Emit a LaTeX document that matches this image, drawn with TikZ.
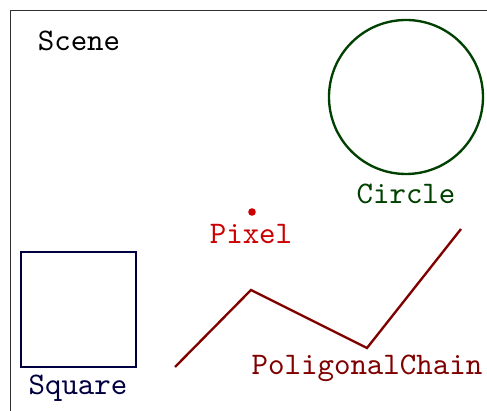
\documentclass[tikz,border=0pt]{standalone}
\definecolor{framegray}{HTML}{303030}
\definecolor{circgreen}{HTML}{004000}
\definecolor{pixred}{HTML}{CC0000}
\definecolor{sqblue}{HTML}{000040}
\definecolor{chainred}{HTML}{800000}
\tikzset{
  shapeline/.style={line width=0.75pt},
  lbl/.style={font=\ttfamily, inner sep=0pt, anchor=center},
}
\begin{document}
\begin{tikzpicture}[x=0.3185pt,y=-0.3185pt]
\useasboundingbox (0,0) rectangle (487,411);
% frame
\draw[framegray, line width=0.4pt] (10.5,411) -- (10.5,10.5) -- (487,10.5);
\node[lbl] (scene) at (79,41) {Scene};
% circle
\draw[circgreen, shapeline] (406,97) circle (77);
\node[lbl, circgreen] (circlelbl) at (406,194) {Circle};
% pixel
\fill[pixred] (252,212) circle (3.8);
\node[lbl, pixred] (pixellbl) at (251,234) {Pixel};
% square
\draw[sqblue, shapeline] (21,252) rectangle (136,367);
\node[lbl, sqblue] (squarelbl) at (78,388) {Square};
% polygonal chain
\coordinate (c1) at (175,367);
\coordinate (c2) at (251,290);
\coordinate (c3) at (367,348);
\coordinate (c4) at (461,229);
\draw[chainred, shapeline] (c1) -- (c2) -- (c3) -- (c4);
\node[lbl, chainred] (chainlbl) at (367,368) {PoligonalChain};
\end{tikzpicture}
\end{document}
